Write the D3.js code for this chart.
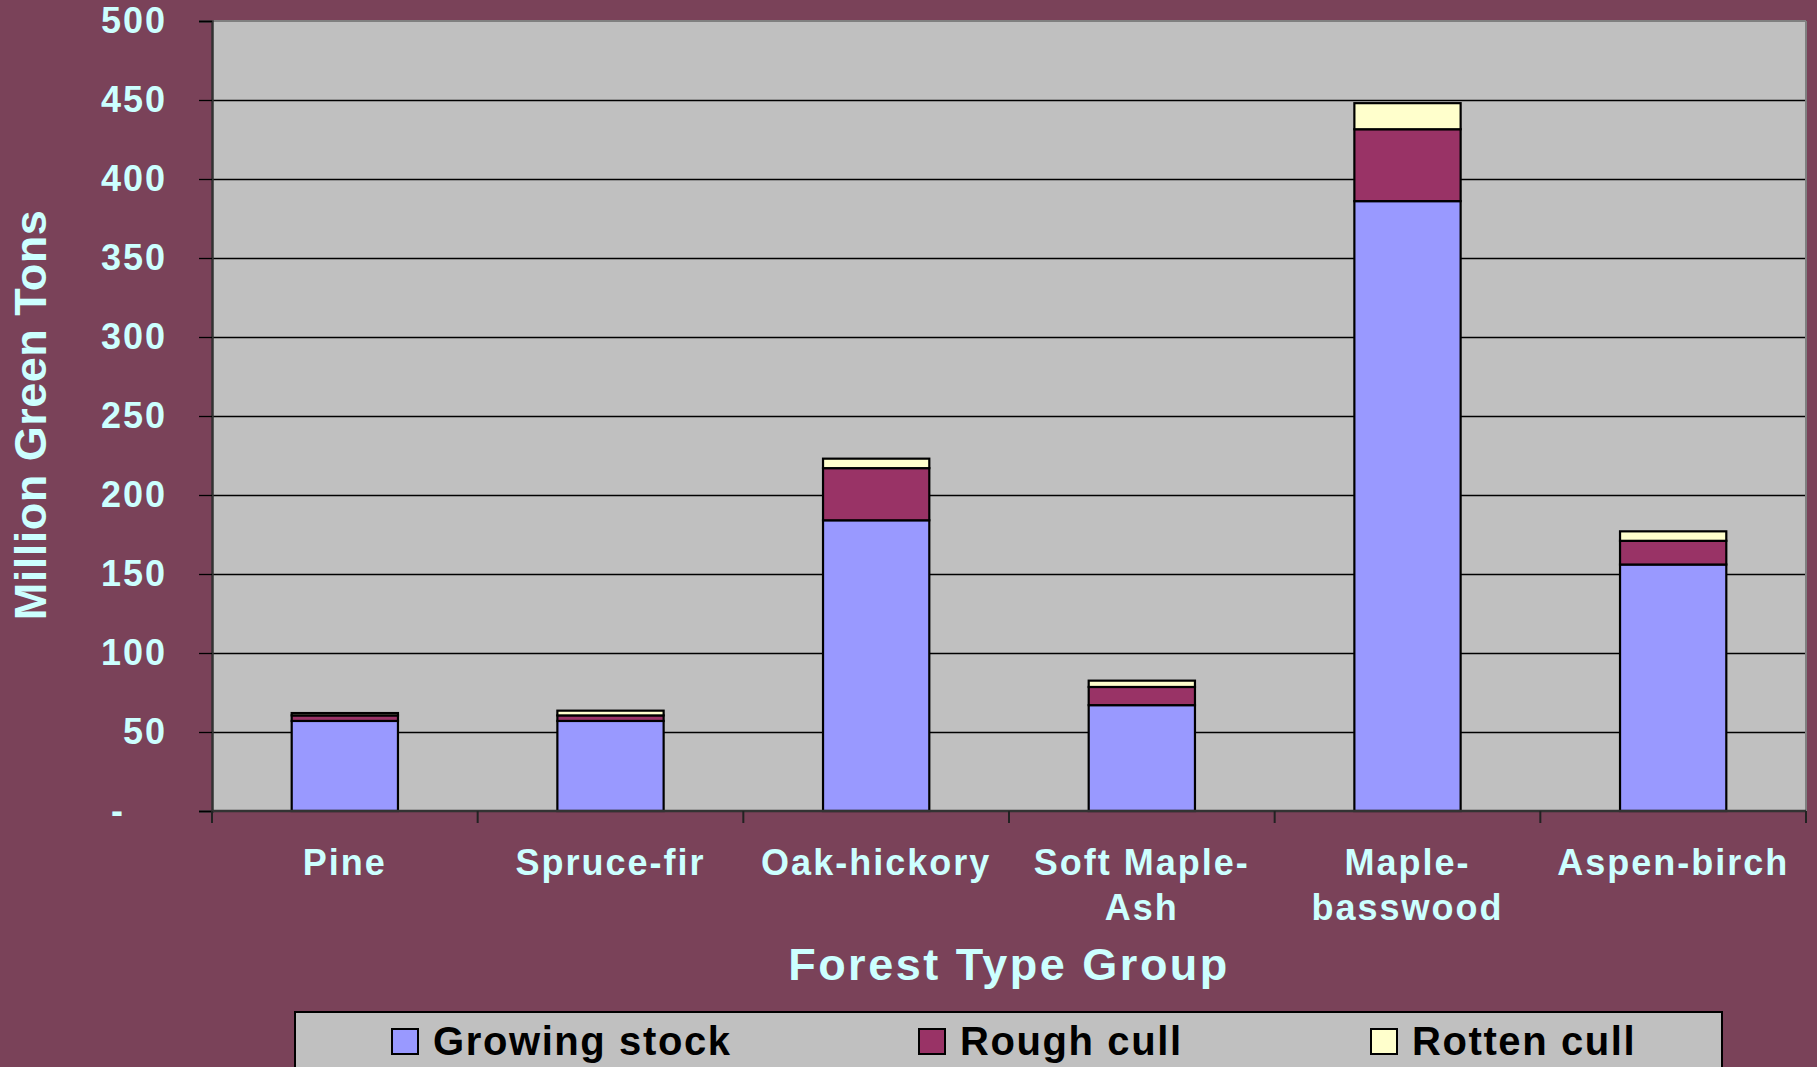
<!DOCTYPE html>
<html>
<head>
<meta charset="utf-8">
<script src="https://cdn.jsdelivr.net/npm/d3@7"></script>
<style>
  html, body { margin: 0; padding: 0; background: #7A4259; }
  svg { display: block; }
  text { font-family: "Liberation Sans", Arial, sans-serif; font-weight: bold; }
</style>
</head>
<body>
<svg id="chart" width="1817" height="1067"></svg>
<script>
// ---- data ----
const categories = ["Pine", "Spruce-fir", "Oak-hickory", "Soft Maple-Ash", "Maple-basswood", "Aspen-birch"];
const categoryLines = [["Pine"], ["Spruce-fir"], ["Oak-hickory"], ["Soft Maple-", "Ash"], ["Maple-", "basswood"], ["Aspen-birch"]];
const seriesNames = ["Growing stock", "Rough cull", "Rotten cull"];
const growingStock = [57, 57, 184, 67, 386, 156];
const roughCull = [3.5, 3.5, 33, 11.5, 45.5, 15];
const rottenCull = [1.5, 3, 6, 4, 16.5, 6];
const yTicks = [0, 50, 100, 150, 200, 250, 300, 350, 400, 450, 500];
const yTickLabels = ["-", "50", "100", "150", "200", "250", "300", "350", "400", "450", "500"];
const colors = ["#9999FF", "#993366", "#FFFFCC"];

// ---- layout ----
const svg = d3.select("#chart");
const plot = { left: 212, right: 1806, top: 21, bottom: 811 };
const textColor = "#CCFFFF";

const rows = categories.map((c, i) => ({
  category: c,
  "Growing stock": growingStock[i],
  "Rough cull": roughCull[i],
  "Rotten cull": rottenCull[i]
}));

const x = d3.scaleBand().domain(categories).range([plot.left, plot.right])
  .paddingInner(0.6).paddingOuter(0.3);
const y = d3.scaleLinear().domain([0, 500]).range([plot.bottom, plot.top]);

// plot background
svg.append("rect")
  .attr("x", plot.left).attr("y", plot.top)
  .attr("width", plot.right - plot.left).attr("height", plot.bottom - plot.top)
  .attr("fill", "#C0C0C0");

// gridlines
svg.append("g").selectAll("line").data(yTicks.filter(t => t > 0 && t < 500)).join("line")
  .attr("x1", plot.left).attr("x2", plot.right)
  .attr("y1", d => Math.round(y(d)) + 0.5).attr("y2", d => Math.round(y(d)) + 0.5)
  .attr("stroke", "#000").attr("stroke-width", 1.3);

// plot border (top/right gray)
svg.append("line").attr("x1", plot.left).attr("x2", plot.right)
  .attr("y1", plot.top).attr("y2", plot.top).attr("stroke", "#808080").attr("stroke-width", 2);
svg.append("line").attr("x1", plot.right).attr("x2", plot.right)
  .attr("y1", plot.top).attr("y2", plot.bottom).attr("stroke", "#808080").attr("stroke-width", 2);

// stacked bars
const stack = d3.stack().keys(seriesNames);
const stacked = stack(rows);
svg.append("g").selectAll("g").data(stacked).join("g")
  .attr("fill", (d, i) => colors[i])
  .selectAll("rect").data(d => d).join("rect")
  .attr("x", d => x(d.data.category))
  .attr("width", x.bandwidth())
  .attr("y", d => y(d[1]))
  .attr("height", d => y(d[0]) - y(d[1]))
  .attr("stroke", "#000").attr("stroke-width", 2.2);

// y axis
const yAxis = d3.axisLeft(y).tickValues(yTicks)
  .tickFormat((d, i) => yTickLabels[i]).tickSize(13).tickPadding(32);
const gy = svg.append("g").attr("transform", `translate(${plot.left},0)`).call(yAxis);
gy.select(".domain").attr("stroke", "#333").attr("stroke-width", 2.5);
gy.selectAll(".tick line").attr("stroke", "#000").attr("stroke-width", 1.3);
gy.selectAll(".tick text")
  .attr("fill", textColor).attr("font-size", 36).attr("letter-spacing", 2)
  .style("font-family", '"Liberation Sans", Arial, sans-serif').style("font-weight", "bold");
// accounting-style dash for zero sits further left
gy.selectAll(".tick text").filter(d => d === 0).attr("dx", -42);

// x axis line and ticks at category boundaries
const boundaries = d3.range(categories.length + 1).map(i => plot.left + i * x.step());
svg.append("line").attr("x1", plot.left).attr("x2", plot.right)
  .attr("y1", plot.bottom).attr("y2", plot.bottom).attr("stroke", "#333").attr("stroke-width", 2.5);
svg.append("g").selectAll("line").data(boundaries).join("line")
  .attr("x1", d => d).attr("x2", d => d)
  .attr("y1", plot.bottom).attr("y2", plot.bottom + 12)
  .attr("stroke", "#222").attr("stroke-width", 2);

// x labels
const xl = svg.append("g").selectAll("text").data(categories).join("text")
  .attr("x", d => x(d) + x.bandwidth() / 2)
  .attr("y", 875)
  .attr("text-anchor", "middle")
  .attr("fill", textColor).attr("font-size", 36).attr("letter-spacing", 2);
xl.each(function(d, i) {
  const t = d3.select(this);
  categoryLines[i].forEach((line, j) => {
    t.append("tspan").attr("x", x(d) + x.bandwidth() / 2).attr("dy", j === 0 ? 0 : 45).text(line);
  });
});

// axis titles
svg.append("text")
  .attr("x", (plot.left + plot.right) / 2).attr("y", 980)
  .attr("text-anchor", "middle").attr("fill", textColor)
  .attr("font-size", 45).attr("letter-spacing", 2.5)
  .text("Forest Type Group");

svg.append("text")
  .attr("transform", "translate(46,415) rotate(-90)")
  .attr("text-anchor", "middle").attr("fill", textColor)
  .attr("font-size", 45).attr("letter-spacing", 0.5)
  .text("Million Green Tons");

// legend
const legend = svg.append("g");
legend.append("rect")
  .attr("x", 295).attr("y", 1012).attr("width", 1427).attr("height", 80)
  .attr("fill", "#C0C0C0").attr("stroke", "#000").attr("stroke-width", 2);
const legendX = [392, 919, 1371];
const li = legend.selectAll("g.item").data(seriesNames).join("g").attr("class", "item")
  .attr("transform", (d, i) => `translate(${legendX[i]},0)`);
li.append("rect").attr("x", 0).attr("y", 1029).attr("width", 26).attr("height", 25)
  .attr("fill", (d, i) => colors[i]).attr("stroke", "#000").attr("stroke-width", 2);
li.append("text").attr("x", 41).attr("y", 1055)
  .attr("fill", "#000").attr("font-size", 40).attr("letter-spacing", 1.6)
  .text(d => d);
</script>
</body>
</html>
